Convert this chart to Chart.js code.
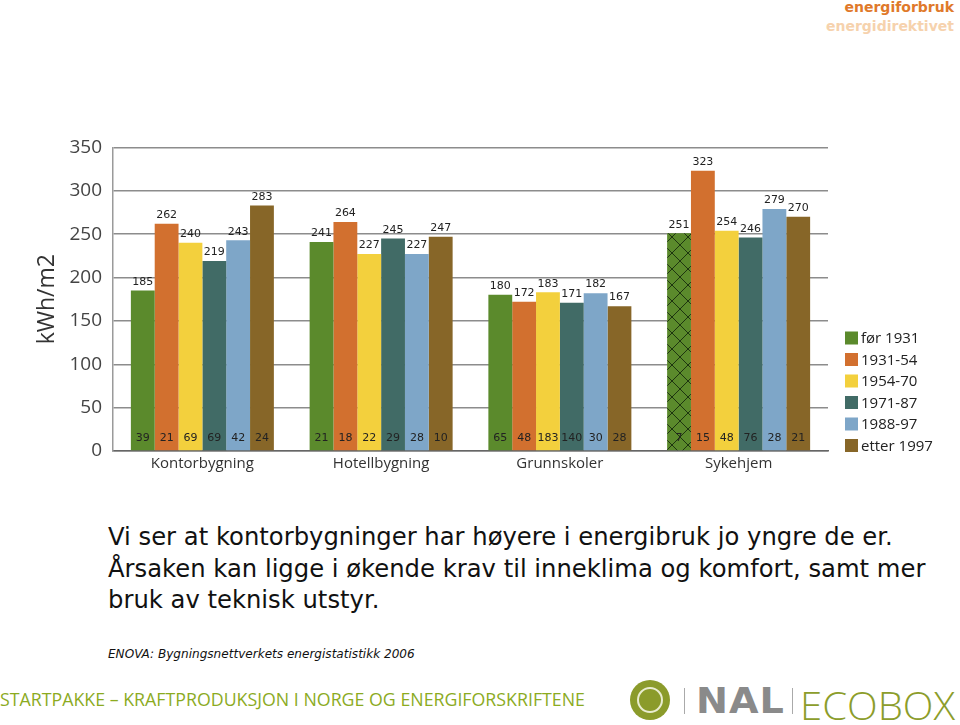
<!DOCTYPE html>
<html>
<head>
<meta charset="utf-8">
<script src="https://cdn.jsdelivr.net/npm/chart.js@4.4.1/dist/chart.umd.min.js"></script>
<style>
  html, body { margin:0; padding:0; background:#fff; width:960px; height:725px; overflow:hidden; }
  body { position:relative; font-family:"DejaVu Sans", sans-serif; }
  #chartBox { position:absolute; left:0; top:125px; width:960px; height:360px; }
  .hdr { position:absolute; right:6px; font-family:"DejaVu Sans", sans-serif; font-weight:bold; font-size:14px; white-space:nowrap; }
  .line { position:absolute; left:108px; white-space:nowrap; color:#111; font-family:"DejaVu Sans", sans-serif; transform-origin:0 0; }
  #src { position:absolute; left:108px; top:647px; font-style:italic; color:#111; font-size:12.5px; white-space:nowrap; transform-origin:0 0; }
  #foot { position:absolute; left:0; top:686px; color:#8cab1f; font-family:"Open Sans", sans-serif; font-size:19px; white-space:nowrap; transform-origin:0 0; }
  #emb { position:absolute; left:630px; top:680px; width:40px; height:40px; border-radius:50%; background:#8b9b2b; }
  #emb2 { position:absolute; left:637px; top:687px; width:22px; height:22px; border-radius:50%; border:2px solid #e9ecd0; background:#8b9b2b; }
  .sep { position:absolute; top:688px; width:1px; height:26px; background:#aaa; }
  #nal { position:absolute; left:696px; top:680px; color:#8a8a8a; font-family:"DejaVu Sans", sans-serif; font-weight:bold; font-size:36px; white-space:nowrap; transform-origin:0 0; letter-spacing:1px; }
  #eco { position:absolute; left:800px; top:679px; color:#8c9d2b; font-family:"Open Sans", sans-serif; font-weight:300; font-size:38px; white-space:nowrap; transform-origin:0 0; }
</style>
</head>
<body>
<div class="hdr" style="top:-1px;color:#e0792a;">energiforbruk</div>
<div class="hdr" style="top:18px;color:#f6d2ad;">energidirektivet</div>

<div id="chartBox"><canvas id="c"></canvas></div>

<div class="line" id="l1" style="top:522px;">Vi ser at kontorbygninger har høyere i energibruk jo yngre de er.</div>
<div class="line" id="l2" style="top:554px;">Årsaken kan ligge i økende krav til inneklima og komfort, samt mer</div>
<div class="line" id="l3" style="top:585px;">bruk av teknisk utstyr.</div>
<div id="src">ENOVA: Bygningsnettverkets energistatistikk 2006</div>

<div id="foot">STARTPAKKE – KRAFTPRODUKSJON I NORGE OG ENERGIFORSKRIFTENE</div>
<div id="emb"></div><div id="emb2"></div>
<div class="sep" style="left:684px;"></div>
<div id="nal">NAL</div>
<div class="sep" style="left:792px;"></div>
<div id="eco">ECOBOX</div>

<script>
// ---- data ----
const categories = ["Kontorbygning", "Hotellbygning", "Grunnskoler", "Sykehjem"];
const seriesNames = ["før 1931", "1931-54", "1954-70", "1971-87", "1988-97", "etter 1997"];
const vFor1931   = [185, 241, 180, 251];
const v1931_54   = [262, 264, 172, 323];
const v1954_70   = [240, 227, 183, 254];
const v1971_87   = [219, 245, 171, 246];
const v1988_97   = [243, 227, 182, 279];
const vEtter1997 = [283, 247, 167, 270];
const nFor1931   = [39, 21, 65, 7];
const n1931_54   = [21, 18, 48, 15];
const n1954_70   = [69, 22, 183, 48];
const n1971_87   = [69, 29, 140, 76];
const n1988_97   = [42, 28, 30, 28];
const nEtter1997 = [24, 10, 28, 21];
const yTicks = [0, 50, 100, 150, 200, 250, 300, 350];

const values = [vFor1931, v1931_54, v1954_70, v1971_87, v1988_97, vEtter1997];
const counts = [nFor1931, n1931_54, n1954_70, n1971_87, n1988_97, nEtter1997];
const colors = ["#5b8a2c", "#d2702f", "#f3d03d", "#416b66", "#7ea6c8", "#876628"];

// hatch pattern for Sykehjem "før 1931"
function hatch(base) {
  const p = document.createElement('canvas');
  p.width = 16; p.height = 16;
  const g = p.getContext('2d');
  g.fillStyle = base; g.fillRect(0, 0, 16, 16);
  g.strokeStyle = "#1e3510"; g.lineWidth = 1;
  g.beginPath();
  g.moveTo(0, 0); g.lineTo(16, 16);
  g.moveTo(16, 0); g.lineTo(0, 16);
  g.stroke();
  return g.createPattern(p, 'repeat');
}
const ctx0 = document.getElementById('c').getContext('2d');
const firstBg = [colors[0], colors[0], colors[0], hatch(colors[0])];

const datasets = seriesNames.map((name, i) => ({
  label: name,
  data: values[i],
  backgroundColor: i === 0 ? firstBg : colors[i],
  borderWidth: 0,
  categoryPercentage: 0.8,
  barPercentage: 1.0
}));

const labelPlugin = {
  id: 'barLabels',
  afterDatasetsDraw(chart) {
    const ctx = chart.ctx;
    const bottom = chart.scales.y.getPixelForValue(0);
    ctx.save();
    ctx.font = '11px "DejaVu Sans", sans-serif';
    ctx.textAlign = 'center';
    chart.data.datasets.forEach((ds, i) => {
      const meta = chart.getDatasetMeta(i);
      meta.data.forEach((bar, j) => {
        ctx.fillStyle = '#222';
        ctx.textBaseline = 'bottom';
        ctx.fillText(String(ds.data[j]), bar.x, bar.y - 3);
        ctx.textBaseline = 'middle';
        ctx.fillText(String(counts[i][j]), bar.x, bottom - 13);
      });
    });
    ctx.restore();
  }
};

const legendPlugin = {
  id: 'sideLegend',
  afterDraw(chart) {
    const ctx = chart.ctx;
    const x0 = chart.chartArea.right + 17;
    const y0 = 338 - 125;
    ctx.save();
    ctx.font = '15px "Open Sans", sans-serif';
    ctx.textBaseline = 'middle';
    ctx.textAlign = 'left';
    chart.data.datasets.forEach((ds, i) => {
      const y = y0 + i * 21.5;
      ctx.fillStyle = colors[i];
      ctx.fillRect(x0, y - 6.5, 13, 13);
      ctx.fillStyle = '#222';
      ctx.fillText(ds.label, x0 + 16, y + 1);
    });
    ctx.restore();
  }
};

new Chart(ctx0, {
  type: 'bar',
  data: { labels: categories, datasets },
  plugins: [labelPlugin, legendPlugin],
  options: {
    responsive: true,
    maintainAspectRatio: false,
    animation: false,
    layout: { padding: { left: 0, right: 132, top: 0, bottom: 0 } },
    plugins: { legend: { display: false }, tooltip: { enabled: false } },
    scales: {
      x: {
        grid: { display: false, drawTicks: false },
        border: { display: true, color: '#666', width: 1.5 },
        ticks: { color: '#333', font: { family: '"Open Sans", sans-serif', size: 15 }, padding: 4 },
        afterFit(s) { s.height = 34; }
      },
      y: {
        min: 0, max: 350,
        afterBuildTicks(s) { s.ticks = yTicks.map(v => ({ value: v })); },
        grid: { color: '#8c8c8c', lineWidth: 1.5, drawTicks: false },
        border: { display: true, color: '#9a9a9a', width: 1.5 },
        ticks: { color: '#444', font: { family: '"Open Sans", sans-serif', size: 19 }, padding: 11 },
        title: { display: true, text: 'kWh/m2', color: '#333', font: { family: '"Open Sans", sans-serif', size: 23 }, padding: { top: 34, bottom: 0 } },
        afterFit(s) { s.width = 113; }
      }
    }
  }
});

// fit decorative text widths
function fitWidth(id, w) {
  const el = document.getElementById(id);
  const cur = el.getBoundingClientRect().width;
  el.style.transform = 'scaleX(' + (w / cur) + ')';
}
function fitFont(id, w) {
  const el = document.getElementById(id);
  const fs = parseFloat(getComputedStyle(el).fontSize);
  const cur = el.getBoundingClientRect().width;
  return fs * w / cur;
}
['l1','l2','l3'].forEach(id => document.getElementById(id).style.fontSize = '20px');
const fsMain = fitFont('l2', 818);
['l1','l2','l3'].forEach(id => document.getElementById(id).style.fontSize = fsMain + 'px');
document.getElementById('src').style.fontSize = fitFont('src', 307) + 'px';
fitWidth('foot', 585);
fitWidth('nal', 89);
fitWidth('eco', 155);
</script>
</body>
</html>
